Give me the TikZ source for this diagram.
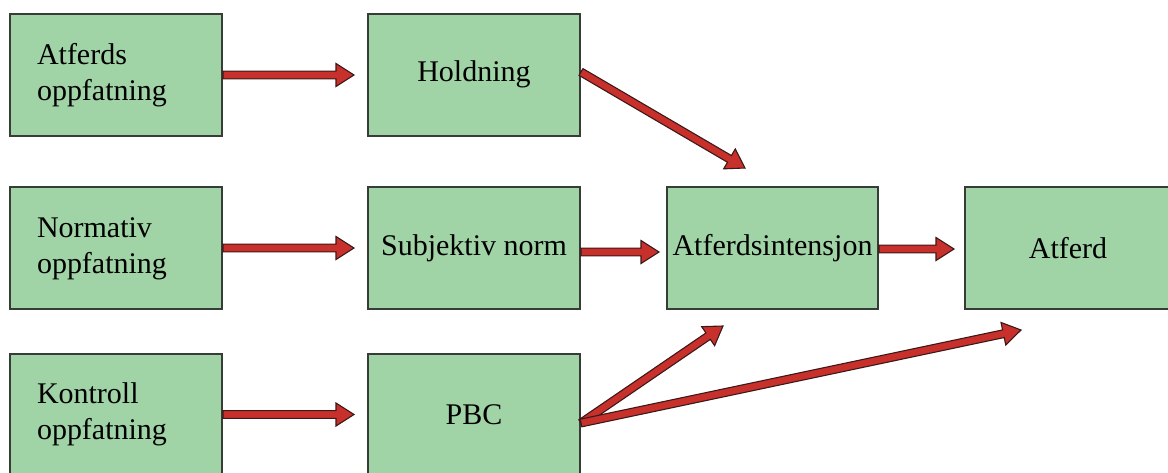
\documentclass[tikz,border=0pt]{standalone}
\usepackage{fontspec}
\setmainfont{Liberation Serif}
\usetikzlibrary{calc}

\definecolor{boxfill}{RGB}{160,211,165}
\definecolor{boxline}{RGB}{55,60,55}
\definecolor{arrowred}{RGB}{200,48,44}
\definecolor{arrowline}{RGB}{60,25,25}

\tikzset{
  stage/.style={draw=boxline, line width=2pt, fill=boxfill,
    minimum width=212pt, minimum height=122pt, inner sep=0pt,
    font=\fontsize{30}{36}\selectfont},
  stageleft/.style={stage, text width=158pt, align=left},
  arrowbody/.style={fill=arrowred, draw=arrowline, line width=1.1pt, line join=miter},
}

% two left-aligned lines, lowered by #1
\newcommand\twolines[3]{\raisebox{-#1}{\begin{tabular}{@{}l@{}}#2\\#3\end{tabular}}}

% filled block arrow from #1 to #2 (shaft half-width 3.9, head 18 x 11.5)
\newcommand\flowarrow[2]{%
  \path (#1) coordinate (fa-s) (#2) coordinate (fa-e);
  \coordinate (fa-h) at ($(fa-e)!18pt!(fa-s)$);
  \filldraw[arrowbody]
    ($(fa-s)!3.9pt!90:(fa-e)$) -- ($(fa-h)!3.9pt!90:(fa-e)$)
    -- ($(fa-h)!11.5pt!90:(fa-e)$) -- (fa-e)
    -- ($(fa-h)!11.5pt!-90:(fa-e)$) -- ($(fa-h)!3.9pt!-90:(fa-e)$)
    -- ($(fa-s)!3.9pt!-90:(fa-e)$) -- cycle;
}

\begin{document}
\begin{tikzpicture}[x=1pt, y=-1pt]
\useasboundingbox (0,0) rectangle (1168,472);

% left column: perceptions
\node[stageleft] (ao) at (116,75)    {\twolines{4pt}{Atferds}{oppfatning}};
\node[stageleft] (no) at (116,248)   {\twolines{4pt}{Normativ}{oppfatning}};
\node[stageleft] (ko) at (116,414.5) {\twolines{0pt}{Kontroll}{oppfatning}};

% middle column
\node[stage] (hold) at (474,75)    {\raisebox{7pt}{Holdning}};
\node[stage] (sn)   at (474,248)   {Subjektiv norm};
\node[stage] (pbc)  at (474,414.5) {PBC};

% intention and behaviour
\node[stage, minimum width=211pt] (ai)  at (772.5,248) {Atferdsintensjon};
\node[stage, minimum width=206pt] (atf) at (1068,248)  {Atferd};

% arrow tips and offset starts
\coordinate (t-hold) at ($(hold.west)+(-13,0)$);
\coordinate (t-sn)   at ($(sn.west)+(-13,0)$);
\coordinate (t-pbc)  at ($(pbc.west)+(-13,0)$);
\coordinate (s-sn)   at ($(sn.east)+(0,4)$);
\coordinate (t-ai)   at ($(ai.west)+(-7,4)$);
\coordinate (s-ai)   at ($(ai.east)+(0,1)$);
\coordinate (t-atf)  at ($(atf.west)+(-10,1)$);
\coordinate (s-hold) at ($(hold.east)+(0,-3)$);
\coordinate (t-hai)  at (745,168);
\coordinate (s-pbc)  at ($(pbc.east)+(0,8.5)$);
\coordinate (t-pai)  at (723,326);
\coordinate (t-patf) at (1021,330);

\flowarrow{ao.east}{t-hold}
\flowarrow{no.east}{t-sn}
\flowarrow{ko.east}{t-pbc}
\flowarrow{s-hold}{t-hai}
\flowarrow{s-sn}{t-ai}
\flowarrow{s-ai}{t-atf}
\flowarrow{s-pbc}{t-pai}
\flowarrow{s-pbc}{t-patf}
\end{tikzpicture}
\end{document}
